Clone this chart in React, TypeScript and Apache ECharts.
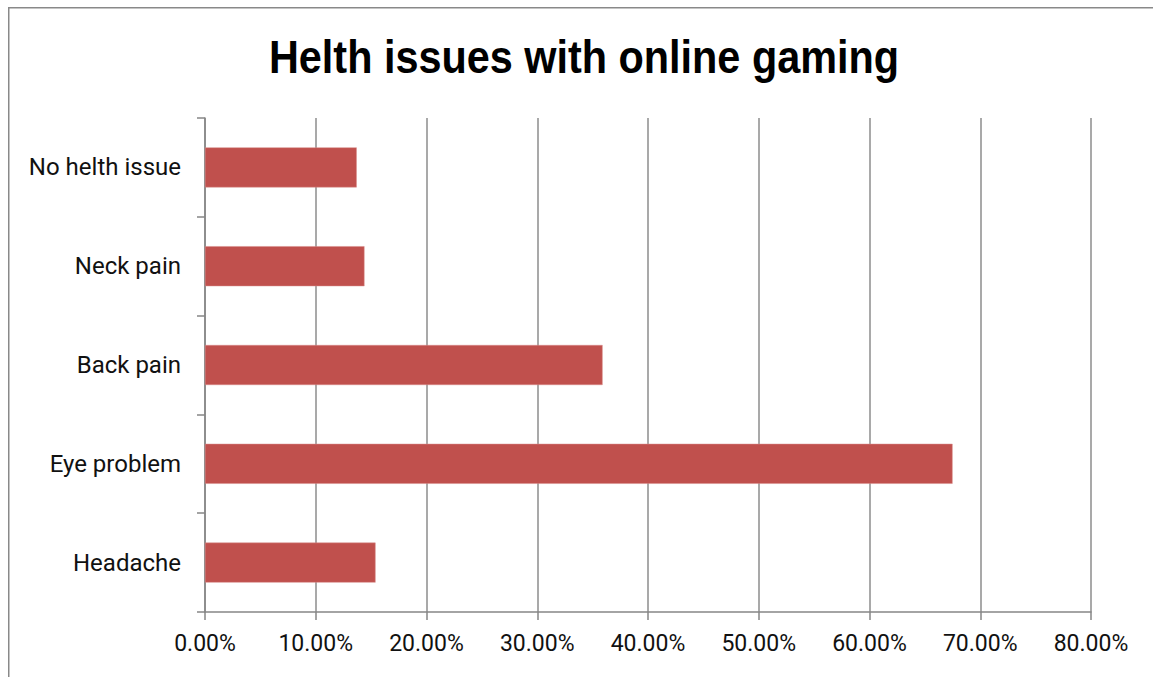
import React, { useEffect, useRef } from "react";
import * as echarts from "echarts";

const categories = ["Headache", "Eye problem", "Back pain", "Neck pain", "No helth issue"];
const values = [15.4, 67.5, 35.9, 14.4, 13.7];
const titleText = "Helth issues with online gaming";

export default function App() {
  const ref = useRef<HTMLDivElement>(null);
  useEffect(() => {
    const chart = echarts.init(ref.current!, null, { renderer: "svg" });
    chart.setOption({
      animation: false,
      backgroundColor: "#ffffff",
      graphic: [
        {
          type: "rect",
          shape: { x: 0.75, y: 0.75, width: 1300, height: 1300 },
          style: { fill: "none", stroke: "#898989", lineWidth: 1.5 },
          silent: true,
        },
        {
          type: "text",
          x: 576,
          y: 50,
          scaleX: 0.9,
          style: {
            text: titleText,
            fontFamily: "Liberation Sans",
            fontWeight: "bold",
            fontSize: 46,
            fill: "#000000",
            align: "center",
            verticalAlign: "middle",
          },
          silent: true,
        },
      ],
      grid: { left: 197, top: 111, width: 886, height: 494, containLabel: false },
      xAxis: {
        type: "value",
        min: 0,
        max: 80,
        interval: 10,
        axisLine: { show: true, lineStyle: { color: "#868686", width: 1.5 } },
        axisTick: { show: true, length: 8, lineStyle: { color: "#868686", width: 1.5 } },
        splitLine: { show: true, lineStyle: { color: "#8c8c8c", width: 1.5 } },
        axisLabel: {
          margin: 20,
          fontFamily: "Roboto",
          fontSize: 23,
          color: "#111111",
          formatter: (v: number) => v.toFixed(2) + "%",
        },
      },
      yAxis: {
        type: "category",
        data: categories,
        axisLine: { show: true, lineStyle: { color: "#868686", width: 1.5 } },
        axisTick: { show: true, length: 8, lineStyle: { color: "#868686", width: 1.5 } },
        axisLabel: {
          margin: 24,
          fontFamily: "Roboto",
          fontSize: 24,
          color: "#111111",
        },
      },
      series: [
        {
          type: "bar",
          data: values,
          barWidth: 40,
          itemStyle: { color: "#C0504D", borderColor: "#d98c8a", borderWidth: 0.5 },
        },
      ],
    });
    return () => chart.dispose();
  }, []);
  return (
    <div
      style={{
        position: "fixed",
        left: 8,
        top: 7,
        width: 1145,
        height: 670,
        overflow: "hidden",
      }}
    >
      <div ref={ref} style={{ width: 1200, height: 700 }} />
    </div>
  );
}
